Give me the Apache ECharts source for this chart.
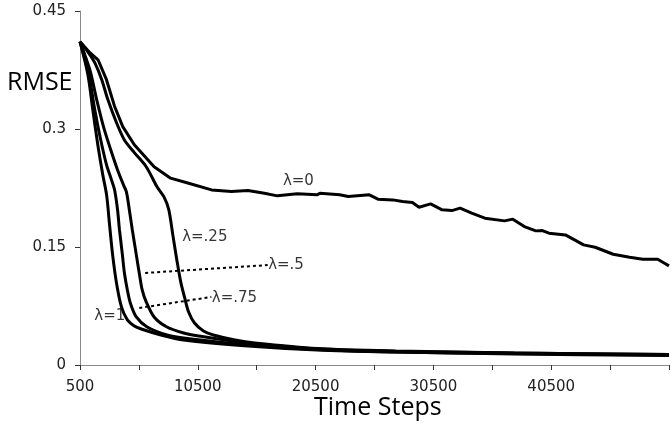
<!DOCTYPE html>
<html>
<head>
<meta charset="utf-8">
<script src="https://cdn.jsdelivr.net/npm/echarts@6/dist/echarts.min.js"></script>
<style>
  html, body { margin: 0; padding: 0; background: #fff; }
  #main { width: 672px; height: 431px; }
</style>
</head>
<body>
<div id="main"></div>
<script>
// time steps / rmse
var lam0Steps = [500, 1340, 2030, 2740, 3430, 4130, 5110, 6790, 8190, 9720, 11670, 13350, 14750, 16150, 17260, 18940, 20620, 20870, 22540, 23270, 25060, 25790, 27050, 27880, 28720, 29280, 30260, 31240, 32070, 32770, 33750, 34870, 36540, 37240, 38220, 39200, 39750, 40310, 41710, 43250, 44230, 45760, 47160, 48280, 49540, 50120, 50500];
var lam0Rmse  = [0.411, 0.397, 0.388, 0.363, 0.329, 0.303, 0.280, 0.252, 0.2375, 0.231, 0.2226, 0.2205, 0.2218, 0.2184, 0.215, 0.2176, 0.2163, 0.2184, 0.2163, 0.2141, 0.2163, 0.2108, 0.2099, 0.2078, 0.2065, 0.2006, 0.2048, 0.1972, 0.1963, 0.1994, 0.193, 0.1866, 0.1832, 0.1854, 0.176, 0.1705, 0.1709, 0.1676, 0.1654, 0.1527, 0.1497, 0.1408, 0.137, 0.1345, 0.1345, 0.1294, 0.126];

var lam25Steps = [500, 1170, 1760, 2340, 2850, 3600, 4270, 5110, 6120, 7040, 7630, 8040, 8380, 8720, 9050, 9390, 9720, 10220, 10980, 11820, 13660, 15340, 20620, 27320, 37380, 50500];
var lam25Rmse  = [0.411, 0.398, 0.384, 0.363, 0.338, 0.308, 0.286, 0.270, 0.252, 0.2265, 0.2137, 0.1972, 0.1654, 0.1336, 0.1056, 0.0852, 0.0674, 0.0534, 0.0433, 0.0382, 0.0318, 0.028, 0.021, 0.0178, 0.0153, 0.0134];

var lam5Steps = [500, 1340, 1920, 2510, 3100, 3690, 4190, 4440, 4690, 4940, 5280, 5530, 5780, 6120, 6790, 7880, 9300, 10560, 14750, 20620, 27320, 37380, 50500];
var lam5Rmse  = [0.411, 0.375, 0.337, 0.302, 0.274, 0.248, 0.229, 0.220, 0.197, 0.172, 0.140, 0.117, 0.0954, 0.0802, 0.0611, 0.0483, 0.0407, 0.0369, 0.028, 0.0204, 0.0172, 0.0153, 0.0134];

var lam75Steps = [500, 1250, 1760, 2260, 2760, 3180, 3430, 3690, 3850, 4100, 4270, 4520, 4770, 5280, 6200, 7880, 9300, 14750, 20620, 27320, 37380, 50500];
var lam75Rmse  = [0.411, 0.369, 0.324, 0.286, 0.254, 0.235, 0.223, 0.197, 0.172, 0.140, 0.117, 0.0954, 0.0789, 0.0611, 0.0483, 0.0382, 0.0344, 0.0254, 0.0197, 0.0165, 0.0146, 0.0127];

var lam1Steps = [500, 1170, 1590, 2010, 2430, 2760, 3010, 3270, 3600, 4020, 4520, 5110, 5700, 7370, 9300, 14750, 20620, 27320, 37380, 50500];
var lam1Rmse  = [0.411, 0.369, 0.324, 0.280, 0.242, 0.216, 0.178, 0.140, 0.104, 0.0738, 0.0573, 0.0496, 0.0458, 0.0382, 0.0318, 0.0242, 0.0191, 0.0165, 0.014, 0.012];

// dotted leader lines for two of the labels
var lead5Steps = [6030, 16430];
var lead5Rmse  = [0.117, 0.127];
var lead75Steps = [5530, 11650];
var lead75Rmse  = [0.0725, 0.0865];

// curve labels
var labelText  = ['λ=0', 'λ=.25', 'λ=.5', 'λ=.75', 'λ=1'];
var labelSteps = [17680, 9130, 16430, 11650, 1670];
var labelRmse  = [0.234, 0.163, 0.127, 0.0852, 0.0623];

var xTicks = [500, 10500, 20500, 30500, 40500];

function pairs(xs, ys) {
    return xs.map(function (x, i) { return [x, ys[i]]; });
}

var axisGray = '#8a8a8a';
var txtFont = 'DejaVu Sans';

var curve = function (xs, ys, smooth) {
    return {
        type: 'line',
        data: pairs(xs, ys),
        symbol: 'none',
        smooth: smooth,
        lineStyle: { color: '#000', width: 3 },
        z: 3
    };
};
var leader = function (xs, ys) {
    return {
        type: 'line',
        data: pairs(xs, ys),
        symbol: 'none',
        lineStyle: { color: '#000', width: 2, type: [3, 3] },
        z: 2
    };
};

var myChart = echarts.init(document.getElementById('main'));
var option = {
    backgroundColor: '#fff',
    animation: false,
    grid: { left: 80, right: -5, top: 11, bottom: 66 },
    xAxis: {
        type: 'value',
        min: 500,
        max: 50500,
        interval: 5000,
        axisLine: { lineStyle: { color: axisGray, width: 1 } },
        axisTick: { length: 5, lineStyle: { color: '#333' } },
        axisLabel: {
            margin: 15,
            color: '#222',
            fontFamily: txtFont,
            fontSize: 15,
            formatter: function (v) {
                return xTicks.indexOf(v) >= 0 ? String(v) : '';
            }
        },
        splitLine: { show: false }
    },
    yAxis: {
        type: 'value',
        min: 0,
        max: 0.45,
        interval: 0.15,
        axisLine: { show: true, lineStyle: { color: axisGray, width: 1 } },
        axisTick: { show: true, length: 5, lineStyle: { color: '#333' } },
        axisLabel: {
            margin: 14,
            color: '#222',
            fontFamily: txtFont,
            fontSize: 15,
            formatter: function (v) { return String(+v.toFixed(2)); }
        },
        splitLine: { show: false }
    },
    graphic: [
        {
            type: 'text', left: 7, top: 70,
            style: { text: 'RMSE', font: '25px "Open Sans"', fill: '#000' }
        },
        {
            type: 'text', left: 314, top: 395,
            style: { text: 'Time Steps', font: '25px "Open Sans"', fill: '#000' }
        }
    ],
    series: [
        curve(lam0Steps, lam0Rmse, false),
        curve(lam25Steps, lam25Rmse, 0.3),
        curve(lam5Steps, lam5Rmse, 0.3),
        curve(lam75Steps, lam75Rmse, 0.3),
        curve(lam1Steps, lam1Rmse, 0.3),
        leader(lead5Steps, lead5Rmse),
        leader(lead75Steps, lead75Rmse),
        {
            type: 'scatter',
            symbol: 'circle',
            symbolSize: 1,
            itemStyle: { color: 'rgba(255,255,255,0)' },
            data: labelSteps.map(function (x, i) {
                return { value: [x, labelRmse[i]], name: labelText[i] };
            }),
            label: {
                show: true,
                position: 'right',
                distance: 0,
                formatter: function (p) { return p.name; },
                color: '#000',
                fontFamily: txtFont,
                fontSize: 15
            },
            labelLayout: { hideOverlap: false },
            z: 4
        }
    ]
};
myChart.setOption(option);
</script>
</body>
</html>
